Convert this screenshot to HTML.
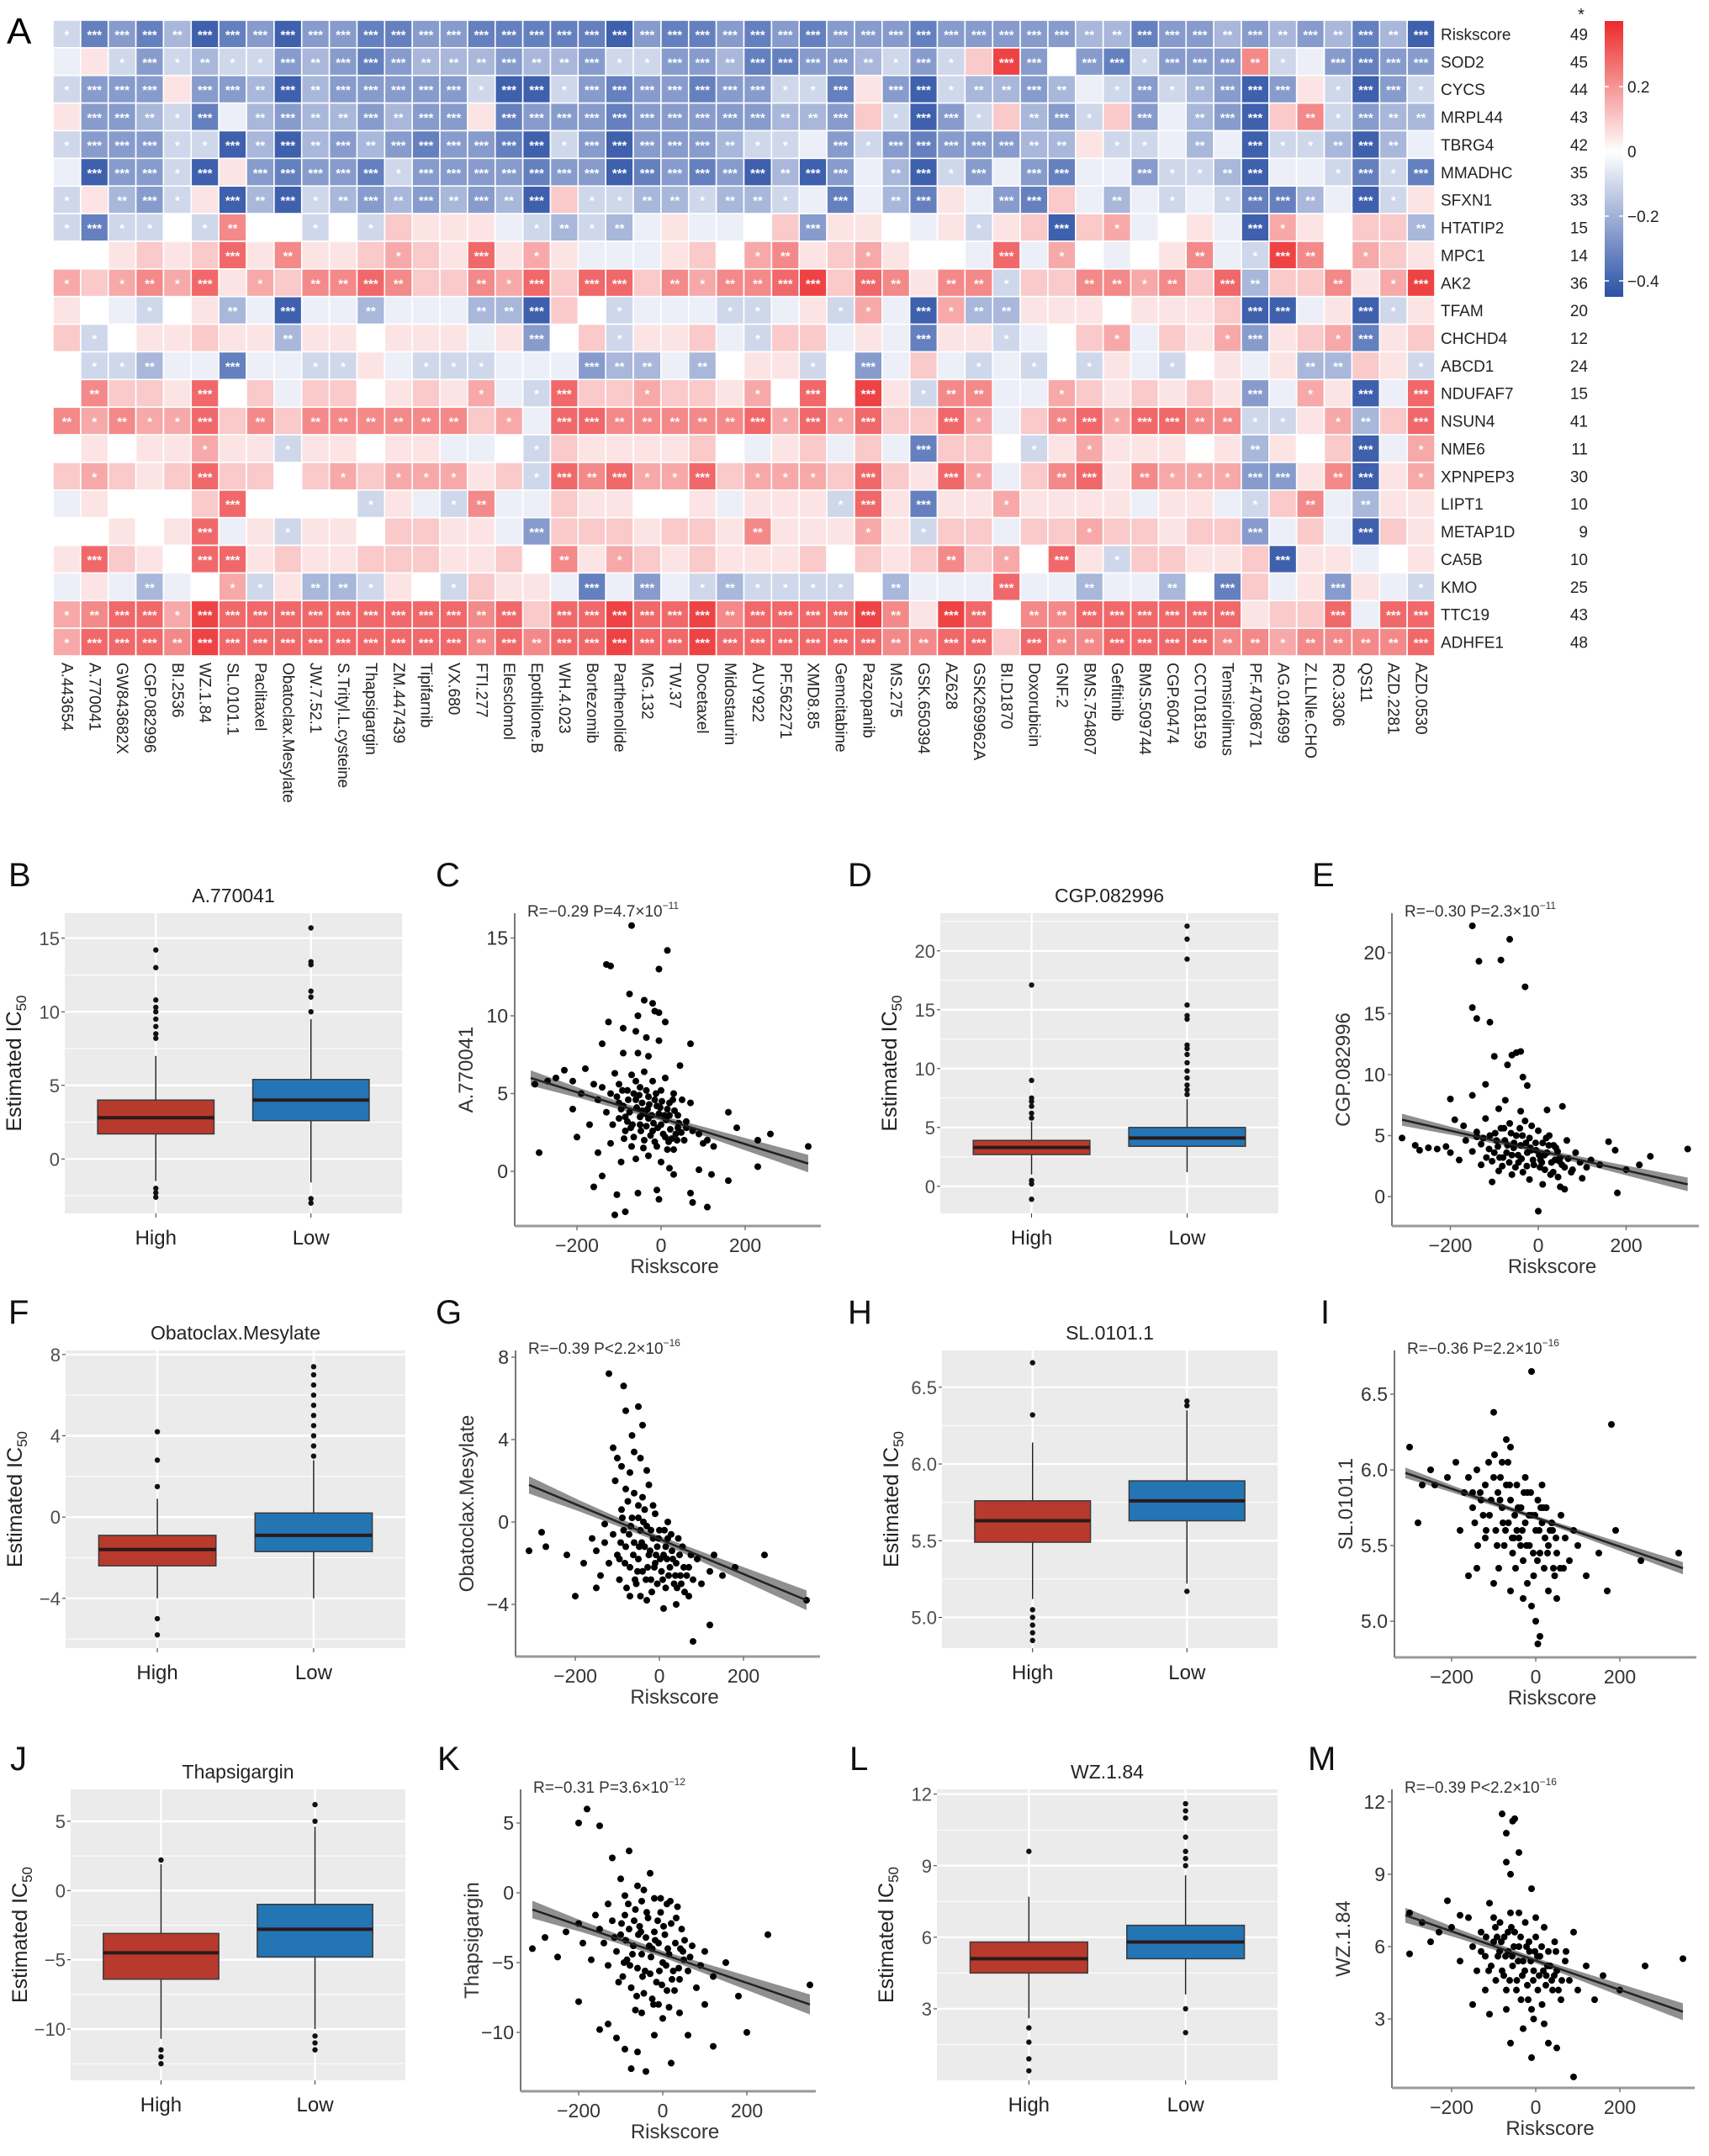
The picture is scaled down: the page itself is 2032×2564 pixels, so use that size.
<!DOCTYPE html>
<html><head><meta charset="utf-8"><style>
html,body{margin:0;padding:0;background:#fff;}
svg text{font-family:"Liberation Sans",Arial,sans-serif;}
</style></head><body>
<svg id="fig" xmlns="http://www.w3.org/2000/svg" width="2032" height="2559" viewBox="0 0 2032 2559">
<defs><linearGradient id="cbar" x1="0" y1="0" x2="0" y2="1">
<stop offset="0" stop-color="#EB2A2A"/><stop offset="0.474" stop-color="#ffffff"/><stop offset="1" stop-color="#2B50A5"/></linearGradient></defs>
</svg>
<script>
// ---------- Heatmap data ----------
const drugs=["A.443654","A.770041","GW843682X","CGP.082996","BI.2536","WZ.1.84","SL.0101.1","Paclitaxel","Obatoclax.Mesylate","JW.7.52.1","S.Trityl.L.cysteine","Thapsigargin","ZM.447439","Tipifarnib","VX.680","FTI.277","Elesclomol","Epothilone.B","WH.4.023","Bortezomib","Parthenolide","MG.132","TW.37","Docetaxel","Midostaurin","AUY922","PF.562271","XMD8.85","Gemcitabine","Pazopanib","MS.275","GSK.650394","AZ628","GSK269962A","BI.D1870","Doxorubicin","GNF.2","BMS.754807","Gefitinib","BMS.509744","CGP.60474","CCT018159","Temsirolimus","PF.4708671","AG.014699","Z.LLNle.CHO","RO.3306","QS11","AZD.2281","AZD.0530"];
const genes=["Riskscore","SOD2","CYCS","MRPL44","TBRG4","MMADHC","SFXN1","HTATIP2","MPC1","AK2","TFAM","CHCHD4","ABCD1","NDUFAF7","NSUN4","NME6","XPNPEP3","LIPT1","METAP1D","CA5B","KMO","TTC19","ADHFE1"];
const sigCounts=[49,45,44,43,42,35,33,15,14,36,20,12,24,15,41,11,30,10,9,10,25,43,48];
const levelValues={a:-0.40,b:-0.32,c:-0.25,d:-0.18,e:-0.10,f:-0.04,g:0,h:0.05,i:0.10,j:0.16,k:0.22,l:0.28,m:0.35};
const heatRows=[
"ebcbdabcaccbbccbbbbbacbbc"+"bcbcccbcccccddbccdcdcdbda",
"fhecedeecdcbcdddcddceeccd"+"bbccdeceimcgcbeccckefcbcc",
"eccchccdadccccceaaecbccbc"+"ceebhcaeddcdfecedcacheace",
"hccdebfdcddcdcchbcccbcccc"+"cddcieaceidceicfdcaikecdd",
"eccceeadadcdcbccbaecacccd"+"eefcecbcccddheefdfaeedadf",
"facceahcbccbeccccbccabcbc"+"adacfdaecfcbffceedaffebeb",
"ehdcehadaedcdcdcdaieedded"+"defbfdbhfcbifdfefebbdfaeh",
"ebeegekggegeihhhfededfhff"+"gichhgfhehiaijfghfajhgiid",
"gghihilhkhhijihlhjhfffhig"+"jkhijhggflfjgfghkfemkgjih",
"jijkjlhjikklkiikjlillikjk"+"klmilkhkkeiikkjkildiikhjm",
"hgfeghdfaffdfffddaigefffe"+"efhejfajddhhhghhhiaafhaeh",
"ieghhihhdhhghhhfhcgiehhif"+"eiifhfbhhefgijfihjchijbhi",
"geedffbffeehfeeefffcddfdg"+"hhegcfifefegehfeghfhddihe",
"gkiihlgifiighihjfeliijiih"+"jglgmhekkffjihihihcfjhafl",
"kjkjjlikikkkkkkijfllkkkkk"+"ljljliiljfikljllkkeehjdil",
"ghghhjhhehhghhffgeihhhhig"+"fhififbiigehjhhhghdhgiafj",
"ijihiliigijijjjhielkljjli"+"jjjilihljfiklhkjjjcchkahj",
"fhgggilggggehfekffihhgghf"+"hhhelhbhhjhhhhfhhfeikfdhh",
"gghghlfhehhgiihhfciiihiih"+"khhhjheiifiijiihiicfifaih",
"hlihgllhihhiiihhigkhjihih"+"hhigihikijglheiihhiahhfgh",
"fhfdfgjehddehgeihhfbfcfed"+"eeeegdffflffdffdgbifhchfe",
"jklljmlllllllllklillmllmk"+"llllmkhmlgkkllllllhiilfll",
"jlllkmlllllllllklkllmllml"+"lllllkkllilkkllllkkjkkkkl"];
const cbarTicks=[0.2,0,-0.2,-0.4];

// ---------- Box plot data: [lowWhisker, q1, median, q3, highWhisker] ----------
const boxGroups=["High","Low"];
const boxB_high=[-1.5,1.7,2.8,4.0,7.0], boxB_low=[-1.6,2.6,4.0,5.4,9.5];
const boxB_highOut=[8.2,8.5,9.0,9.5,10.0,10.3,10.8,13.0,14.2,-2.0,-2.3,-2.6], boxB_lowOut=[10.0,11.0,11.4,13.2,13.4,15.7,-2.7,-3.0];
const boxD_high=[1.0,2.7,3.3,3.9,5.5], boxD_low=[1.2,3.4,4.1,5.0,7.4];
const boxD_highOut=[5.8,6.2,6.8,7.2,7.5,9.0,17.1,0.5,0.2,-1.1], boxD_lowOut=[7.8,8.2,8.6,9.2,9.8,10.5,11.2,11.7,12.0,14.2,14.5,15.4,19.3,21.0,22.1];
const boxF_high=[-4.0,-2.4,-1.6,-0.9,0.9], boxF_low=[-4.0,-1.7,-0.9,0.2,2.8];
const boxF_highOut=[1.5,2.8,4.2,-5.0,-5.8], boxF_lowOut=[3.0,3.5,4.0,4.5,5.0,5.5,6.0,6.5,7.0,7.4];
const boxH_high=[5.12,5.49,5.63,5.76,6.14], boxH_low=[5.22,5.63,5.76,5.89,6.35];
const boxH_highOut=[6.32,6.66,5.05,5.0,4.95,4.9,4.85], boxH_lowOut=[6.38,6.41,5.17];
const boxJ_high=[-10.7,-6.4,-4.5,-3.1,1.9], boxJ_low=[-10.0,-4.8,-2.8,-1.0,4.6];
const boxJ_highOut=[2.2,-11.5,-12.0,-12.5], boxJ_lowOut=[5.0,6.2,-10.5,-11.0,-11.5];
const boxL_high=[2.6,4.5,5.1,5.8,7.7], boxL_low=[3.6,5.1,5.8,6.5,8.6];
const boxL_highOut=[9.6,2.2,1.6,0.9,0.4], boxL_lowOut=[9.0,9.3,9.6,10.2,11.0,11.3,11.6,3.0,2.0];

// ---------- Scatter data ----------
const scC_x=[-70,15,-130,-120,-5,-75,-40,-20,-15,-5,10,-55,-125,-90,-60,-35,-5,70,-140,-55,-30,-90,45,-180,-300,-270,-250,-230,-210,-190,-160,-150,-140,-120,-110,-100,-90,-80,-70,-60,-50,-40,-30,-20,-10,0,10,20,30,40,50,60,70,-130,-115,-100,-85,-75,-65,-50,-40,-30,-20,-10,0,10,20,30,40,55,75,90,100,110,125,160,180,230,260,350,-290,-200,-210,-170,-150,-120,-95,-60,-30,0,20,-140,-160,-105,-55,-10,-5,70,75,110,-85,-110,30,90,120,160,230,-100,-80,-45,-25,-5,15,35,-60,-35,-15,
-95,-85,-78,-68,-58,-48,-38,-28,-18,-8,2,12,22,32,42,-88,-72,-52,-42,-22,-12,8,18,28,48,-65,-45,-35,-15,5,25,-105,-92,-70,-50,-32,-2,15,38,60];
const scC_y=[15.8,14.2,13.3,13.2,13,11.4,11,10.8,10.3,10.2,9.6,10,9.6,9.2,9,8.6,8.4,8.2,8.2,7.6,7.4,7.6,6.8,6.6,5.6,5.8,6,6.5,5.8,5,5.6,4.6,5.4,5,6.3,5.6,4.2,5.2,6.2,4.6,5.4,6.4,4.8,5.8,4.2,5.2,6.0,4.4,5.0,3.6,4.6,3.2,4.4,3.8,3.0,3.4,2.6,3.8,2.2,3.0,2.0,3.4,2.6,1.6,3.0,2.2,3.6,1.4,2.8,2.0,2.6,2.4,1.8,2.0,1.6,3.8,2.8,2.0,2.4,1.6,1.2,2.2,4.0,3.0,1.2,1.8,0.6,0.8,1.0,0.6,0.2,-0.3,-1.0,-1.5,-1.4,-1.2,-1.8,-1.4,-2.0,-2.3,-2.6,-2.8,-0.2,0.1,-0.2,-0.6,0.3,4.4,3.2,3.9,2.3,3.7,4.0,2.4,5.8,5.2,4.6,
4.0,3.5,4.6,3.0,4.1,2.6,3.7,4.3,3.1,2.8,4.5,3.3,2.7,3.9,3.1,2.1,2.8,4.9,1.5,3.6,5.0,3.6,1.9,4.6,2.5,5.0,4.4,2.9,1.9,2.4,2.1,4.8,5.2,1.6,3.5,4.0,4.1,1.4,2.0,2.8];
const scE_x=[-150,-65,-135,-85,-30,-150,-140,-110,-50,-40,-60,-100,-70,-35,-25,-120,-200,-150,-75,-90,-40,20,55,-310,-280,-270,-250,-230,-210,-190,-170,-165,-150,-140,-130,-120,-110,-100,-95,-85,-80,-70,-65,-60,-50,-45,-40,-30,-25,-20,-10,-5,0,5,10,15,20,25,30,40,45,50,60,65,75,85,95,110,120,140,160,175,180,200,230,255,340,-105,-60,-20,0,50,60,100,-130,-90,-35,10,-180,-200,-55,-15,35,
-125,-112,-98,-88,-76,-66,-56,-46,-36,-26,-16,-6,4,14,24,34,44,54,-118,-92,-72,-52,-42,-28,-12,2,18,28,48,68,-82,-62,-38,-18,8,38,-140,-105,-78,78];
const scE_y=[22.2,21.1,19.3,19.4,17.2,15.5,14.6,14.3,11.8,11.9,11.6,11.5,10.8,9.8,9.1,9.2,8.0,8.3,7.9,7.2,7.0,7.1,7.4,4.8,4.2,3.8,4.0,3.9,4.1,6.3,5.8,4.6,3.7,5.3,4.3,6.4,5.0,3.6,4.6,5.6,3.2,4.2,6.0,3.4,5.0,2.8,4.2,6.2,3.6,4.8,2.6,3.8,5.4,3.0,4.4,2.2,3.6,5.0,2.8,4.0,1.6,3.2,2.4,4.6,2.0,3.6,2.8,2.4,3.0,2.6,4.5,3.8,0.3,2.2,2.6,3.3,3.9,1.2,1.8,1.4,-1.2,0.8,0.6,1.5,2.6,2.1,2.0,1.0,3.0,3.6,4.4,5.8,4.2,
4.8,3.9,5.2,3.2,4.6,2.8,4.0,3.4,5.0,2.5,3.8,4.4,2.4,3.4,4.2,2.0,3.7,2.6,3.2,4.1,3.6,2.4,5.6,4.4,3.0,3.4,4.8,1.8,2.9,3.1,2.5,5.2,3.1,4.0,2.8,3.0,4.9,2.9,5.6,2.2];
const scG_x=[-120,-85,-80,-50,-40,-65,-60,-100,-110,-90,-70,-45,-30,-105,-80,-60,-40,-25,-15,-50,-90,-130,-280,-310,-270,-220,-180,-160,-150,-140,-130,-120,-110,-100,-95,-85,-80,-70,-65,-60,-55,-50,-45,-40,-35,-30,-25,-20,-15,-10,-5,0,5,10,15,20,25,30,35,40,50,55,60,70,80,90,100,120,130,150,180,250,350,-200,-150,-70,-30,10,40,70,120,80,-20,-50,-10,20,
-92,-82,-72,-62,-52,-42,-32,-22,-12,-2,8,18,28,38,48,58,-88,-68,-48,-28,-8,12,32,52,-78,-58,-38,-18,2,22,42,-95,-45,-5,65,-75,-35,15,45,75];
const scG_y=[7.2,6.6,5.4,5.6,4.7,4.2,3.4,3.1,3.6,2.7,2.4,3.1,2.5,2.0,1.6,1.4,1.2,1.8,0.8,0.2,0.6,-0.1,-0.5,-1.4,-1.2,-1.6,-2.0,-0.8,-1.4,-2.6,-1.0,-2.0,-0.6,-1.6,-2.8,-0.4,-1.2,-2.2,0.2,-1.0,-3.0,-1.8,-0.4,-2.4,-1.2,-0.2,-1.6,-2.8,-0.8,-2.0,-1.2,-0.4,-2.4,-1.6,-3.2,-0.8,-2.2,-1.4,-3.0,-2.0,-2.6,-1.2,-3.4,-2.2,-2.8,-1.8,-3.0,-2.4,-1.6,-2.6,-2.2,-1.6,-3.8,-3.6,-3.2,-3.6,-3.8,-4.2,-4.0,-3.6,-5.0,-5.8,-0.4,0.8,0.4,0.0,
-1.0,-2.0,-0.6,-1.6,-2.4,-1.0,-2.8,-1.4,-2.2,-0.8,-2.8,-1.8,-0.6,-2.6,-1.6,-2.2,0.2,-0.2,-1.2,-2.2,-1.6,-0.4,-1.8,-3.0,-3.2,-2.8,0.0,-3.4,-1.8,-2.6,-3.2,-1.8,-3.6,-3.0,-2.6,1.0,0.6,-1.2,-0.8,-1.6];
const scI_x=[-10,-100,180,-300,-60,-70,-80,-250,-240,-210,-190,-170,-160,-150,-140,-130,-120,-110,-100,-95,-90,-80,-75,-70,-65,-60,-55,-50,-45,-40,-35,-30,-25,-20,-15,-10,-5,0,5,10,15,20,25,30,40,45,50,60,70,80,90,100,120,150,170,190,250,340,-270,-280,-160,-140,-100,-60,-30,-10,0,10,5,-20,30,50,-120,-180,-85,-45,-25,15,
-145,-132,-118,-106,-92,-84,-72,-62,-52,-42,-32,-22,-12,-2,8,18,28,38,48,58,-138,-112,-88,-66,-48,-36,-16,4,22,42,-125,-98,-78,-56,-28,-6,12,34,-150,66];
const scI_y=[6.65,6.38,6.3,6.15,6.15,6.2,6.05,6.0,5.9,5.95,6.05,5.85,5.95,5.75,6.0,5.8,5.9,5.7,5.95,5.6,5.85,5.75,5.5,5.9,5.65,5.8,5.45,5.7,5.9,5.55,5.75,5.4,5.65,5.85,5.5,5.7,5.3,5.6,5.8,5.45,5.65,5.35,5.75,5.5,5.6,5.3,5.45,5.7,5.55,5.4,5.6,5.5,5.3,5.45,5.2,5.6,5.4,5.45,5.9,5.65,5.3,5.35,5.25,5.2,5.15,5.1,5.0,4.9,4.85,5.25,5.2,5.15,5.55,5.6,5.8,5.6,5.95,5.9,
5.65,5.85,5.6,5.8,5.5,5.95,5.6,5.9,5.55,5.75,5.6,5.5,5.85,5.7,5.6,5.75,5.45,5.65,5.55,5.35,5.5,6.05,5.35,6.05,5.35,5.5,5.7,5.4,5.55,5.35,5.7,6.1,5.65,5.55,5.85,5.45,5.75,5.6,5.85,5.35];
const scK_x=[-180,-200,-150,-120,-80,-100,-60,-30,-90,-50,-20,10,-130,-160,-200,-280,-310,-250,-230,-190,-170,-150,-140,-130,-120,-110,-100,-95,-90,-85,-80,-75,-70,-65,-60,-55,-50,-45,-40,-35,-30,-25,-20,-15,-10,-5,0,5,10,15,20,25,30,40,45,50,60,70,80,90,100,120,150,180,250,350,-200,-150,-130,-110,-90,-75,-60,-40,-20,0,20,40,60,100,120,200,-50,-10,
-98,-88,-78,-68,-58,-48,-38,-28,-18,-8,2,12,22,32,42,52,-92,-72,-52,-32,-12,8,28,48,-82,-62,-42,-22,-2,18,38,-105,-65,-25,15,65,-45,-5,35,-115];
const scK_y=[6.0,5.0,4.8,2.5,3.0,1.0,0.5,1.4,-0.2,-0.6,-0.4,-0.8,-0.8,-1.6,-2.2,-3.2,-4.0,-4.6,-2.8,-3.6,-4.8,-2.6,-3.6,-5.2,-2.0,-4.2,-3.0,-6.0,-1.6,-4.8,-2.6,-6.8,-3.8,-1.2,-5.4,-2.4,-4.4,-7.2,-3.2,-1.8,-5.8,-4.0,-2.8,-6.4,-3.6,-1.4,-5.0,-3.0,-7.0,-4.4,-2.2,-5.6,-3.6,-6.2,-2.6,-4.8,-5.6,-3.8,-6.8,-5.2,-4.2,-6.0,-5.0,-7.4,-3.0,-6.6,-7.8,-9.8,-9.4,-10.4,-11.2,-12.6,-11.4,-12.8,-10.2,-9.0,-12.2,-8.6,-10.2,-8.0,-11.0,-10.0,-8.6,-8.0,
-2.2,-3.4,-5.2,-2.0,-3.0,-6.0,-1.4,-4.6,-3.4,-5.6,-2.4,-4.0,-6.2,-1.8,-4.0,-3.4,-5.0,-4.4,-2.8,-3.8,-2.0,-5.2,-7.0,-4.2,-0.8,-7.4,-5.6,-8.0,-6.6,-0.6,-5.4,-6.4,-8.4,-7.6,-8.2,-4.6,0.2,-0.4,-1.0,-3.2];
const scM_x=[-80,-55,-50,-70,-70,-40,-60,-10,-210,-180,-300,-270,-230,-300,-250,-200,-180,-160,-150,-140,-130,-120,-110,-100,-95,-90,-85,-80,-75,-70,-65,-60,-55,-50,-45,-40,-35,-30,-25,-20,-15,-10,-5,0,5,10,15,20,25,30,40,45,50,60,70,80,90,100,120,140,160,200,260,350,-150,-110,-60,-30,-10,30,50,90,-5,-70,20,-120,-40,0,
-118,-106,-96,-86,-76,-66,-56,-46,-36,-26,-16,-6,4,14,24,34,44,54,-112,-92,-72,-52,-32,-12,8,28,48,-82,-62,-42,-22,-2,18,38,-130,-100,-58,-18,62,72];
const scM_y=[11.5,11.2,11.3,10.7,9.5,9.9,9.0,8.4,7.9,7.3,7.4,7.0,6.6,5.7,6.2,6.8,5.4,7.2,6.0,5.0,6.6,5.6,7.8,6.2,4.6,5.6,7.0,5.0,6.4,4.2,5.8,7.4,5.2,6.6,4.6,6.0,3.8,5.4,7.0,4.4,5.8,3.4,5.0,6.4,4.2,5.6,3.6,6.8,4.8,5.8,4.2,6.2,5.0,3.8,5.4,4.6,6.6,4.2,5.2,3.8,4.8,4.2,5.2,5.5,3.6,3.2,2.0,2.6,1.4,2.0,1.8,0.6,3.0,3.4,2.8,4.2,7.4,7.2,
6.4,5.2,6.8,5.8,4.8,6.6,5.6,4.2,6.4,5.0,6.2,4.6,5.6,6.0,4.4,5.2,4.8,4.2,5.0,6.4,5.6,6.0,4.8,5.4,4.8,5.2,5.8,6.2,4.6,5.4,6.0,5.8,5.0,4.6,5.8,7.2,6.8,3.8,4.6,5.8];

// ---------- helpers ----------
const svg=document.getElementById('fig');
const NS='http://www.w3.org/2000/svg';
function mk(tag,attrs,parent){const e=document.createElementNS(NS,tag);for(const k in attrs)e.setAttribute(k,attrs[k]);(parent||svg).appendChild(e);return e;}
function txt(s,attrs,parent){const e=mk('text',attrs,parent);e.textContent=s;return e;}
function fmtNum(v){return (v<0?'\u2212':'')+Math.abs(v);}
function cellColor(v){
  let r,g,b;
  if(v>=0){const t=Math.min(v/0.40,1);r=255+(235-255)*t;g=255+(40-255)*t;b=255+(42-255)*t;}
  else{const t=Math.min(-v/0.44,1);r=255+(43-255)*t;g=255+(80-255)*t;b=255+(165-255)*t;}
  return 'rgb('+Math.round(r)+','+Math.round(g)+','+Math.round(b)+')';
}
function stars(v){const a=Math.abs(v);return a>=0.245?'***':(a>=0.175?'**':(a>=0.095&&v<0||a>=0.155?'*':''));}

// ---------- Panel A heatmap ----------
const hx0=63,hy0=24,cw=32.86,ch=32.87;
const heat=mk('g',{});


txt('A',{x:8,y:52,'font-size':44},svg);
genes.forEach((gname,r)=>{
  const row=heatRows[r];
  for(let c=0;c<drugs.length;c++){
    const v=levelValues[row[c]];
    const rect=mk('rect',{x:hx0+c*cw,y:hy0+r*ch,width:cw,height:ch,fill:cellColor(v),stroke:'#fff','stroke-width':1.6},heat);
    
    
    const s=stars(v);
    if(s){const t=txt(s,{x:hx0+(c+0.5)*cw,y:hy0+(r+0.5)*ch+6,'font-size':15,'font-weight':'bold',fill:'#fff','text-anchor':'middle'},heat);
      
      }
  }
  const gl=txt(gname,{x:1713,y:hy0+(r+0.5)*ch+7,'font-size':19,fill:'#222'},heat);
  
  
  const cl=txt(String(sigCounts[r]),{x:1888,y:hy0+(r+0.5)*ch+7,'font-size':19,fill:'#222','text-anchor':'end'},heat);
  
  
});
txt('*',{x:1880,y:24,'font-size':20,'text-anchor':'middle',fill:'#222'});
drugs.forEach((d,c)=>{
  const cx=hx0+(c+0.5)*cw-6;
  const t=txt(d,{x:cx,y:788,'font-size':19,fill:'#222',transform:'rotate(90 '+cx+' 788)'},heat);
  
  
});
const cb=mk('rect',{x:1908,y:25,width:22,height:328,fill:'url(#cbar)'});


function cbY(v){return 180-v*385;}
cbarTicks.forEach(v=>{
  mk('line',{x1:1908,x2:1913,y1:cbY(v),y2:cbY(v),stroke:'#fff','stroke-width':1.5});
  mk('line',{x1:1925,x2:1930,y1:cbY(v),y2:cbY(v),stroke:'#fff','stroke-width':1.5});
  const t=txt(fmtNum(v),{x:1935,y:cbY(v)+7,'font-size':19,fill:'#222'});
  
  
});

// ---------- Box plot panel ----------
function boxPanel(o){
  const g=mk('g',{});
  
  
  const Y=v=>o.y0-(v-o.ymin)*(o.y0-o.y1)/(o.ymax-o.ymin);
  const bg=mk('rect',{x:o.x0,y:o.y1,width:o.x1-o.x0,height:o.y0-o.y1,fill:'#EBEBEB'},g);
  
  const step=o.ticks[1]-o.ticks[0];
  for(let v=o.ticks[0]-step/2;v<=o.ymax;v+=step){if(v>o.ymin)mk('line',{x1:o.x0,x2:o.x1,y1:Y(v),y2:Y(v),stroke:'#fff','stroke-width':1},g);}
  o.ticks.forEach(v=>{
    mk('line',{x1:o.x0,x2:o.x1,y1:Y(v),y2:Y(v),stroke:'#fff','stroke-width':2.4},g);
    mk('line',{x1:o.x0-4,x2:o.x0,y1:Y(v),y2:Y(v),stroke:'#333','stroke-width':1},g);
    const t=txt(o.tickFmt?o.tickFmt(v):fmtNum(v),{x:o.x0-6,y:Y(v)+8,'font-size':22,fill:'#4d4d4d','text-anchor':'end'},g);
    
    
  });
  const w=o.x1-o.x0, centers=[o.x0+w*0.27,o.x0+w*0.73], bw=w*0.345;
  const fills=['#B83A2C','#2375B4'];
  [[o.high,o.highOut],[o.low,o.lowOut]].forEach((d,i)=>{
    const cx=centers[i];
    mk('line',{x1:cx,x2:cx,y1:o.y1,y2:o.y0,stroke:'#fff','stroke-width':2.4},g);
    mk('line',{x1:cx,x2:cx,y1:Y(d[0][0]),y2:Y(d[0][4]),stroke:'#222','stroke-width':1.5},g);
    const b=mk('rect',{x:cx-bw/2,y:Y(d[0][3]),width:bw,height:Y(d[0][1])-Y(d[0][3]),fill:fills[i],stroke:'#3a3a3a','stroke-width':1.5},g);
    
    
    mk('line',{x1:cx-bw/2,x2:cx+bw/2,y1:Y(d[0][2]),y2:Y(d[0][2]),stroke:'#2a1a1a','stroke-width':4},g);
    d[1].forEach(v=>{const p=mk('circle',{cx:cx,cy:Y(v),r:3.2,fill:'#111'},g);
      
      });
    mk('line',{x1:cx,x2:cx,y1:o.y0,y2:o.y0+5,stroke:'#333','stroke-width':1},g);
    const t=txt(boxGroups[i],{x:cx,y:o.y0+37,'font-size':24,fill:'#222','text-anchor':'middle'},g);
    
    
  });
  const ti=txt(o.title,{x:(o.x0+o.x1)/2,y:o.y1-13,'font-size':23,fill:'#222','text-anchor':'middle'},g);
  
  
  const yc=(o.y0+o.y1)/2, ax=o.x0-52;
  const yt=mk('text',{x:ax,y:yc,'font-size':25,fill:'#222','text-anchor':'middle',transform:'rotate(-90 '+ax+' '+yc+')'},g);
  
  
  yt.appendChild(document.createTextNode('Estimated IC'));
  const sub=mk('tspan',{'font-size':17,dy:6},yt);sub.textContent='50';
  const L=txt(o.letter,{x:o.lx,y:o.ly,'font-size':40,fill:'#111'});
  
  
}

// ---------- Scatter panel ----------
function scatterPanel(o){
  const g=mk('g',{});
  
  
  const X=v=>o.zx+v*o.sx;
  const Y=v=>o.zy-v*o.sy;
  const xa=o.fit[0],ya=o.fit[1],xb=o.fit[2],yb=o.fit[3],hw=o.fit[4];
  const band=mk('path',{d:'M'+X(xa)+','+Y(ya+hw*1.4)+' L'+X(xa+120)+','+Y(ya+(yb-ya)*120/(xb-xa)+hw*0.9)+' L'+X(0)+','+Y(ya+(yb-ya)*(0-xa)/(xb-xa)+hw*0.5)+' L'+X(xb)+','+Y(yb+hw*1.6)+' L'+X(xb)+','+Y(yb-hw*1.6)+' L'+X(0)+','+Y(ya+(yb-ya)*(0-xa)/(xb-xa)-hw*0.5)+' L'+X(xa+120)+','+Y(ya+(yb-ya)*120/(xb-xa)-hw*0.9)+' L'+X(xa)+','+Y(ya-hw*1.4)+' Z',fill:'#6b6b6b','fill-opacity':0.75},g);
  
  
  o.xs.forEach((xv,i)=>{
    if(o.ys[i]===undefined)return;
    const p=mk('circle',{cx:X(xv),cy:Y(o.ys[i]),r:4,fill:'#000'},g);
    
    
  });
  const ln=mk('line',{x1:X(xa),y1:Y(ya),x2:X(xb),y2:Y(yb),stroke:'#222','stroke-width':2.5},g);
  
  
  const ax1=mk('line',{x1:o.ax,x2:o.ax,y1:o.top,y2:o.bottom,stroke:'#777','stroke-width':2},g);
  
  const ax2=mk('line',{x1:o.ax,x2:o.right,y1:o.bottom,y2:o.bottom,stroke:'#999','stroke-width':3},g);
  
  o.yticks.forEach(v=>{
    mk('line',{x1:o.ax-5,x2:o.ax,y1:Y(v),y2:Y(v),stroke:'#777','stroke-width':1.5},g);
    const t=txt(o.yfmt?o.yfmt(v):fmtNum(v),{x:o.ax-8,y:Y(v)+8,'font-size':23,fill:'#333','text-anchor':'end'},g);
    
    
  });
  o.xticks.forEach(v=>{
    mk('line',{x1:X(v),x2:X(v),y1:o.bottom,y2:o.bottom+5,stroke:'#777','stroke-width':1.5},g);
    const t=txt(fmtNum(v),{x:X(v),y:o.bottom+31,'font-size':23,fill:'#333','text-anchor':'middle'},g);
    
    
  });
  const xt=txt('Riskscore',{x:(o.ax+o.right)/2+8,y:o.bottom+56,'font-size':24,fill:'#333','text-anchor':'middle'},g);
  
  
  const yc=(o.top+o.bottom)/2, yx=o.ax-50;
  const yt=txt(o.ytitle,{x:yx,y:yc,'font-size':24,fill:'#333','text-anchor':'middle',transform:'rotate(-90 '+yx+' '+yc+')'},g);
  
  
  const an=mk('text',{x:o.ax+15,y:o.top+4,'font-size':19,fill:'#333'},g);
  
  
  an.appendChild(document.createTextNode(o.ann));
  const sp=mk('tspan',{'font-size':12,dy:-9},an);sp.textContent=o.exp;
  const L=txt(o.letter,{x:o.lx,y:o.ly,'font-size':40,fill:'#111'});
  
  
}

boxPanel({name:'boxplot-a770041',letter:'B',lx:10,ly:1054,title:'A.770041',x0:77,x1:478,y0:1443,y1:1086,ymin:-3.7,ymax:16.7,ticks:[0,5,10,15],high:boxB_high,low:boxB_low,highOut:boxB_highOut,lowOut:boxB_lowOut});
scatterPanel({name:'scatter-a770041',letter:'C',lx:518,ly:1054,ax:612,top:1086,bottom:1458,right:976,zx:786,sx:0.5,zy:1393,sy:18.5,xs:scC_x,ys:scC_y,fit:[-310,6.0,350,0.5,0.35],xticks:[-200,0,200],yticks:[0,5,10,15],ytitle:'A.770041',ann:'R=\u22120.29 P=4.7\u00d710',exp:'\u221211'});
boxPanel({name:'boxplot-cgp082996',letter:'D',lx:1008,ly:1054,title:'CGP.082996',x0:1118,x1:1520,y0:1443,y1:1086,ymin:-2.3,ymax:23.2,ticks:[0,5,10,15,20],high:boxD_high,low:boxD_low,highOut:boxD_highOut,lowOut:boxD_lowOut});
scatterPanel({name:'scatter-cgp082996',letter:'E',lx:1560,ly:1054,ax:1655,top:1086,bottom:1458,right:2020,zx:1829,sx:0.5225,zy:1423,sy:14.5,xs:scE_x,ys:scE_y,fit:[-310,6.3,340,1.0,0.35],xticks:[-200,0,200],yticks:[0,5,10,15,20],ytitle:'CGP.082996',ann:'R=\u22120.30 P=2.3\u00d710',exp:'\u221211'});
boxPanel({name:'boxplot-obatoclax',letter:'F',lx:10,ly:1574,title:'Obatoclax.Mesylate',x0:78,x1:482,y0:1960,y1:1606,ymin:-6.45,ymax:8.2,ticks:[-4,0,4,8],high:boxF_high,low:boxF_low,highOut:boxF_highOut,lowOut:boxF_lowOut});
scatterPanel({name:'scatter-obatoclax',letter:'G',lx:518,ly:1574,ax:613,top:1606,bottom:1970,right:975,zx:784,sx:0.5,zy:1810,sy:24.5,xs:scG_x,ys:scG_y,fit:[-310,1.8,350,-3.8,0.3],xticks:[-200,0,200],yticks:[-4,0,4,8],ytitle:'Obatoclax.Mesylate',ann:'R=\u22120.39 P<2.2\u00d710',exp:'\u221216'});
boxPanel({name:'boxplot-sl01011',letter:'H',lx:1008,ly:1574,title:'SL.0101.1',x0:1120,x1:1519,y0:1960,y1:1606,ymin:4.8,ymax:6.74,ticks:[5.0,5.5,6.0,6.5],tickFmt:v=>v.toFixed(1),high:boxH_high,low:boxH_low,highOut:boxH_highOut,lowOut:boxH_lowOut});
scatterPanel({name:'scatter-sl01011',letter:'I',lx:1570,ly:1574,ax:1658,top:1606,bottom:1971,right:2017,zx:1826,sx:0.5,zy:1748+6*180,sy:180,xs:scI_x,ys:scI_y,fit:[-310,5.98,350,5.35,0.025],xticks:[-200,0,200],yticks:[5.0,5.5,6.0,6.5],yfmt:v=>v.toFixed(1),ytitle:'SL.0101.1',ann:'R=\u22120.36 P=2.2\u00d710',exp:'\u221216'});
boxPanel({name:'boxplot-thapsigargin',letter:'J',lx:12,ly:2105,title:'Thapsigargin',x0:84,x1:482,y0:2474,y1:2128,ymin:-13.7,ymax:7.3,ticks:[-10,-5,0,5],high:boxJ_high,low:boxJ_low,highOut:boxJ_highOut,lowOut:boxJ_lowOut});
scatterPanel({name:'scatter-thapsigargin',letter:'K',lx:520,ly:2105,ax:619,top:2128,bottom:2487,right:970,zx:788,sx:0.5,zy:2251,sy:16.6,xs:scK_x,ys:scK_y,fit:[-310,-1.2,350,-8.0,0.45],xticks:[-200,0,200],yticks:[-10,-5,0,5],ytitle:'Thapsigargin',ann:'R=\u22120.31 P=3.6\u00d710',exp:'\u221212'});
boxPanel({name:'boxplot-wz184',letter:'L',lx:1010,ly:2105,title:'WZ.1.84',x0:1114,x1:1519,y0:2474,y1:2128,ymin:0,ymax:12.2,ticks:[3,6,9,12],high:boxL_high,low:boxL_low,highOut:boxL_highOut,lowOut:boxL_lowOut});
scatterPanel({name:'scatter-wz184',letter:'M',lx:1555,ly:2105,ax:1655,top:2128,bottom:2483,right:2015,zx:1826,sx:0.5,zy:2315+6*28.7,sy:28.7,xs:scM_x,ys:scM_y,fit:[-310,7.3,350,3.3,0.22],xticks:[-200,0,200],yticks:[3,6,9,12],ytitle:'WZ.1.84',ann:'R=\u22120.39 P<2.2\u00d710',exp:'\u221216'});
</script>
</body></html>
